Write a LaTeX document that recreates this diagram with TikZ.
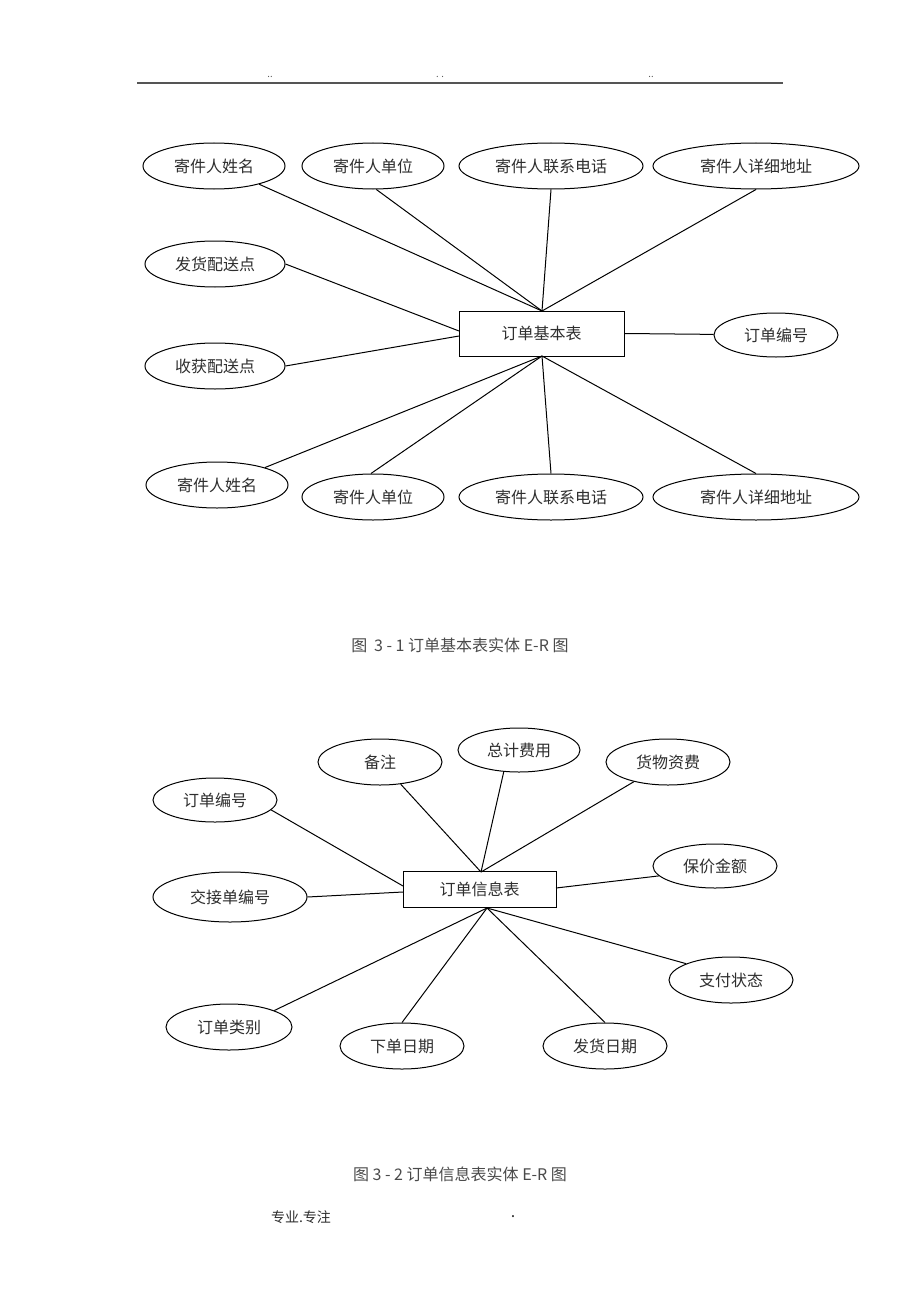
\documentclass[tikz,border=0pt]{standalone}
\usepackage{fontspec}
\usetikzlibrary{shapes.geometric}
\newfontfamily\cjk{Noto Sans CJK SC}
\definecolor{txt}{HTML}{2E2E2E}
\definecolor{cap}{HTML}{4A4A4A}
\definecolor{hdr}{HTML}{555555}
\begin{document}
\begin{tikzpicture}[x=0.75pt,y=-0.75pt,
  attr/.style 2 args={ellipse, draw=black, line width=0.75pt,
    minimum width=#1*1.5pt, minimum height=#2*1.5pt, inner sep=0pt,
    font=\cjk\fontsize{12pt}{14pt}\selectfont, text=txt},
  ent/.style 2 args={rectangle, draw=black, line width=0.75pt,
    minimum width=#1*0.75pt, minimum height=#2*0.75pt, inner sep=0pt,
    font=\cjk\fontsize{12pt}{14pt}\selectfont, text=txt},
  link/.style={line width=0.75pt, draw=black},
  captext/.style={font=\cjk\fontsize{12pt}{14pt}\selectfont, text=cap, inner sep=0pt},
  small/.style={font=\cjk\fontsize{7pt}{8pt}\selectfont, text=hdr, inner sep=0pt}]
\fill[white] (0,0) rectangle (920,1302);
\useasboundingbox (0,0) rectangle (920,1302);

% header
\coordinate (h1) at (137,83);
\coordinate (h2) at (783,83);
\draw[hdr, line width=1.2pt] (h1) -- (h2);
\node[small] (d1) at (270,77) {..};
\node[small] (d2) at (440,77) {. .};
\node[small] (d3) at (651,77) {..};

% ===== diagram 1 =====
\node[attr={71}{23}] (a1) at (214,166) {寄件人姓名};
\node[attr={71}{23}] (a2) at (373,166) {寄件人单位};
\node[attr={92}{23}] (a3) at (551,166) {寄件人联系电话};
\node[attr={103}{23}] (a4) at (756,166) {寄件人详细地址};
\node[attr={70}{23}] (a5) at (215,264) {发货配送点};
\node[attr={70}{23}] (a6) at (215,366) {收获配送点};
\node[ent={165}{45}] (e1) at (541.5,333.5) {订单基本表};
\node[attr={62}{22}] (a7) at (776,335) {订单编号};
\node[attr={71}{23}] (a8) at (217,485) {寄件人姓名};
\node[attr={71}{23}] (a9) at (373,497) {寄件人单位};
\node[attr={92}{23}] (a10) at (551,497) {寄件人联系电话};
\node[attr={103}{23}] (a11) at (756,497) {寄件人详细地址};

\coordinate (t1) at (542,311);
\coordinate (l1) at (459,331);
\coordinate (l2) at (459,336);
\coordinate (b1) at (542,356);

\draw[link] (a1.-22) -- (t1);
\draw[link] (a2.-82) -- (t1);
\draw[link] (a3.south) -- (t1);
\draw[link] (a4.south) -- (t1);
\draw[link] (a5.east) -- (l1);
\draw[link] (a6.east) -- (l2);
\draw[link] (e1.east) -- (a7);
\draw[link] (b1) -- (a8.20);
\draw[link] (b1) -- (a9.95);
\draw[link] (b1) -- (a10.north);
\draw[link] (b1) -- (a11.north);

\node[captext] (cap1) at (460,645) {图\hspace{5pt}3 - 1 订单基本表实体 E-R 图};

% ===== diagram 2 =====
\node[attr={62}{23}] (c1) at (380,762) {备注};
\node[attr={61}{22}] (c2) at (519,750) {总计费用};
\node[attr={62}{23}] (c3) at (668,762) {货物资费};
\node[attr={62}{22}] (c4) at (215,800) {订单编号};
\node[attr={62}{22}] (c5) at (715,866) {保价金额};
\node[ent={153}{36}] (e2) at (479.5,889.5) {订单信息表};
\node[attr={77}{25}] (c6) at (230,897) {交接单编号};
\node[attr={62}{23}] (c7) at (731,980) {支付状态};
\node[attr={63}{23}] (c8) at (229,1027) {订单类别};
\node[attr={62}{23}] (c9) at (402,1046) {下单日期};
\node[attr={62}{23}] (c10) at (605,1046) {发货日期};

\coordinate (u2) at (481,872);
\coordinate (l3) at (403,886);
\coordinate (l4) at (403,892);
\coordinate (r2) at (556,888);
\coordinate (b2) at (487,908);

\draw[link] (c4.-10) -- (l3);
\draw[link] (c1.-47) -- (u2);
\draw[link] (c2.-125) -- (u2);
\draw[link] (c3.-150) -- (u2);
\draw[link] (c6.east) -- (l4);
\draw[link] (r2) -- (c5.-170);
\draw[link] (b2) -- (c7.160);
\draw[link] (b2) -- (c8.20);
\draw[link] (b2) -- (c9.north);
\draw[link] (b2) -- (c10.north);

\node[captext] (cap2) at (460,1174) {图 3 - 2 订单信息表实体 E-R 图};

% footer
\node[captext, font=\cjk\fontsize{10.5pt}{12pt}\selectfont, text=txt] (f1) at (301,1217) {专业.专注};
\node[captext, text=txt] (f2) at (513,1217) {.};
\end{tikzpicture}
\end{document}
